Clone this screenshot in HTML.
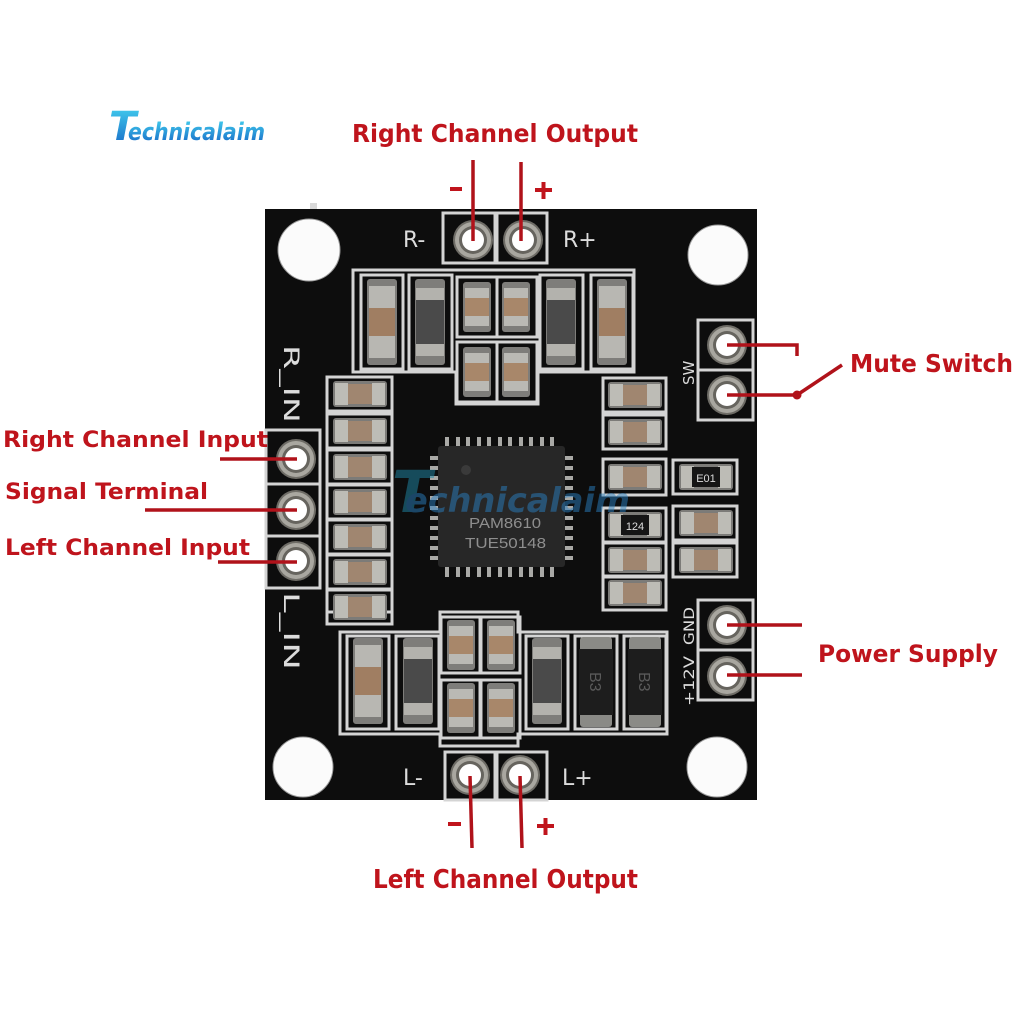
<!DOCTYPE html>
<html><head><meta charset="utf-8"><style>
html,body{margin:0;padding:0;background:#fff;}
svg{display:block;}
</style></head><body>
<svg width="1024" height="1024" viewBox="0 0 1024 1024" xmlns="http://www.w3.org/2000/svg">
<defs>
<linearGradient id="lg" x1="0" y1="0" x2="0" y2="1">
<stop offset="0" stop-color="#45d3f0"/><stop offset="1" stop-color="#1463c4"/>
</linearGradient>
<g id="capH">
<rect x="-27" y="-13" width="54" height="26" rx="3" fill="#7c7b78"/>
<rect x="-25" y="-11" width="13" height="22" fill="#bdbcb6"/>
<rect x="12" y="-11" width="13" height="22" fill="#bdbcb6"/>
<rect x="-12" y="-10" width="24" height="20" fill="#a08670"/>
</g>
<g id="resH">
<rect x="-27" y="-13" width="54" height="26" rx="3" fill="#7c7b78"/>
<rect x="-25" y="-11" width="13" height="22" fill="#bdbcb6"/>
<rect x="12" y="-11" width="13" height="22" fill="#bdbcb6"/>
<rect x="-14" y="-10" width="28" height="20" fill="#151515"/>
</g>
<g id="capVL">
<rect x="-15" y="-43" width="30" height="86" rx="3" fill="#7e7d7a"/>
<rect x="-13" y="-36" width="26" height="72" fill="#b8b7b2"/>
<rect x="-13" y="-14" width="26" height="28" fill="#a07e62"/>
</g>
<g id="indV">
<rect x="-15" y="-43" width="30" height="86" rx="3" fill="#7e7d7a"/>
<rect x="-14" y="-34" width="28" height="68" fill="#b3b2ad"/>
<rect x="-14" y="-22" width="28" height="44" fill="#4a4a4a"/>
</g>
<g id="capVs">
<rect x="-14" y="-25" width="28" height="50" rx="3" fill="#7e7d7a"/>
<rect x="-12" y="-19" width="24" height="38" fill="#bab9b4"/>
<rect x="-12" y="-9" width="24" height="18" fill="#a8876a"/>
</g>
<g id="diode">
<rect x="-16" y="-45" width="32" height="90" rx="3" fill="#8a8a86"/>
<rect x="-17" y="-33" width="34" height="66" fill="#1d1d1d"/>
</g>
<g id="pad">
<circle r="20" fill="#6e6c66"/>
<circle r="18" fill="#a9a7a0"/>
<circle r="14" fill="#66645e"/>
<circle r="11" fill="#ffffff"/>
</g>
</defs>

<rect width="1024" height="1024" fill="#fff"/>

<!-- logo -->
<text x="109" y="140" font-family="DejaVu Sans, sans-serif" font-weight="bold" font-style="italic" font-size="40" fill="url(#lg)">T</text>
<text x="128" y="140" font-family="DejaVu Sans, sans-serif" font-weight="bold" font-style="italic" font-size="24" fill="url(#lg)" textLength="137" lengthAdjust="spacingAndGlyphs">echnicalaim</text>

<!-- board -->
<rect x="265" y="209" width="492" height="591" fill="#0d0d0d"/>
<rect x="310" y="203" width="7" height="6" fill="#d9d9d9"/>

<!-- holes -->
<circle cx="309" cy="250" r="31" fill="#fbfbfb" stroke="#9a9a9a" stroke-width="1"/>
<circle cx="718" cy="255" r="30" fill="#fbfbfb" stroke="#9a9a9a" stroke-width="1"/>
<circle cx="303" cy="767" r="30" fill="#fbfbfb" stroke="#9a9a9a" stroke-width="1"/>
<circle cx="717" cy="767" r="30" fill="#fbfbfb" stroke="#9a9a9a" stroke-width="1"/>

<!-- silkscreen -->
<g fill="none" stroke="#d4d4d4" stroke-width="3">
<rect x="443" y="213" width="52" height="50"/>
<rect x="497" y="213" width="50" height="50"/>
<rect x="445" y="752" width="50" height="48"/>
<rect x="497" y="752" width="50" height="48"/>
<path d="M353 270 H634 V372 H538 V404 H456 V372 H353 Z"/>
<rect x="361" y="275" width="42" height="94"/>
<rect x="409" y="275" width="43" height="94"/>
<rect x="457" y="277" width="40" height="60"/>
<rect x="497" y="277" width="40" height="60"/>
<rect x="457" y="342" width="40" height="60"/>
<rect x="497" y="342" width="40" height="60"/>
<rect x="540" y="275" width="43" height="94"/>
<rect x="591" y="275" width="42" height="94"/>
<path d="M340 632 H440 V612 H518 V632 H667 V734 H518 V746 H440 V734 H340 Z"/>
<rect x="347" y="636" width="42" height="93"/>
<rect x="396" y="636" width="43" height="93"/>
<rect x="441" y="617" width="39" height="56"/>
<rect x="481" y="617" width="39" height="56"/>
<rect x="441" y="680" width="39" height="58"/>
<rect x="481" y="680" width="39" height="58"/>
<rect x="526" y="636" width="42" height="93"/>
<rect x="575" y="636" width="42" height="93"/>
<rect x="624" y="636" width="42" height="93"/>
<rect x="327" y="377" width="65" height="235"/>
<rect x="327" y="377" width="65" height="34"/>
<rect x="327" y="414" width="65" height="34"/>
<rect x="327" y="450" width="65" height="34"/>
<rect x="327" y="485" width="65" height="34"/>
<rect x="327" y="520" width="65" height="34"/>
<rect x="327" y="555" width="65" height="34"/>
<rect x="327" y="590" width="65" height="34"/>
<rect x="603" y="378" width="63" height="34"/>
<rect x="603" y="415" width="63" height="34"/>
<rect x="603" y="459" width="63" height="36"/>
<rect x="603" y="508" width="63" height="34"/>
<rect x="603" y="543" width="63" height="34"/>
<rect x="603" y="576" width="63" height="34"/>
<rect x="673" y="460" width="64" height="34"/>
<rect x="673" y="506" width="64" height="34"/>
<rect x="673" y="543" width="64" height="34"/>
<rect x="266" y="430" width="54" height="158"/>
<line x1="266" y1="484" x2="320" y2="484"/>
<line x1="266" y1="536" x2="320" y2="536"/>
<rect x="698" y="320" width="55" height="100"/>
<line x1="698" y1="370" x2="753" y2="370"/>
<rect x="698" y="600" width="55" height="100"/>
<line x1="698" y1="650" x2="753" y2="650"/>
</g>

<!-- silkscreen text -->
<g fill="#dcdcdc" font-family="DejaVu Sans, sans-serif" font-size="22">
<text x="403" y="247">R-</text>
<text x="563" y="247">R+</text>
<text x="403" y="785">L-</text>
<text x="562" y="785">L+</text>
<text transform="translate(284,345) rotate(90)" font-size="21" textLength="78" lengthAdjust="spacingAndGlyphs">R_IN</text>
<text transform="translate(284,592) rotate(90)" font-size="21" textLength="78" lengthAdjust="spacingAndGlyphs">L_IN</text>
<text transform="translate(694,385) rotate(-90)" font-size="15">SW</text>
<text transform="translate(694,645) rotate(-90)" font-size="14" textLength="38" lengthAdjust="spacingAndGlyphs">GND</text>
<text transform="translate(694,706) rotate(-90)" font-size="14" textLength="50" lengthAdjust="spacingAndGlyphs">+12V</text>
</g>

<!-- components top -->
<use href="#capVL" x="382" y="322"/>
<use href="#indV" x="430" y="322"/>
<use href="#capVs" x="477" y="307"/>
<use href="#capVs" x="516" y="307"/>
<use href="#capVs" x="477" y="372"/>
<use href="#capVs" x="516" y="372"/>
<use href="#indV" x="561" y="322"/>
<use href="#capVL" x="612" y="322"/>

<!-- components bottom -->
<use href="#capVL" x="368" y="681"/>
<use href="#indV" x="418" y="681"/>
<use href="#capVs" x="461" y="645"/>
<use href="#capVs" x="501" y="645"/>
<use href="#capVs" x="461" y="708"/>
<use href="#capVs" x="501" y="708"/>
<use href="#indV" x="547" y="681"/>
<use href="#diode" x="596" y="682"/>
<use href="#diode" x="645" y="682"/>
<text transform="translate(590,672) rotate(90)" font-family="Liberation Sans, sans-serif" font-size="16" fill="#5a5a5a">B3</text>
<text transform="translate(639,672) rotate(90)" font-family="Liberation Sans, sans-serif" font-size="16" fill="#5a5a5a">B3</text>

<!-- left column caps -->
<use href="#capH" x="360" y="394"/>
<use href="#capH" x="360" y="431"/>
<use href="#capH" x="360" y="467"/>
<use href="#capH" x="360" y="502"/>
<use href="#capH" x="360" y="537"/>
<use href="#capH" x="360" y="572"/>
<use href="#capH" x="360" y="607"/>

<!-- right column -->
<use href="#capH" x="635" y="395"/>
<use href="#capH" x="635" y="432"/>
<use href="#capH" x="635" y="477"/>
<use href="#resH" x="635" y="525"/>
<use href="#capH" x="635" y="560"/>
<use href="#capH" x="635" y="593"/>
<use href="#resH" x="706" y="477"/>
<use href="#capH" x="706" y="523"/>
<use href="#capH" x="706" y="560"/>
<text x="635" y="530" font-family="Liberation Sans, sans-serif" font-size="11" fill="#dcdcdc" text-anchor="middle">124</text>
<text x="706" y="482" font-family="Liberation Sans, sans-serif" font-size="11" fill="#dcdcdc" text-anchor="middle">E01</text>

<!-- chip -->
<g fill="#a9a9a6">
<rect x="445" y="437" width="4" height="11"/><rect x="456" y="437" width="4" height="11"/><rect x="466" y="437" width="4" height="11"/><rect x="477" y="437" width="4" height="11"/><rect x="487" y="437" width="4" height="11"/><rect x="498" y="437" width="4" height="11"/><rect x="508" y="437" width="4" height="11"/><rect x="519" y="437" width="4" height="11"/><rect x="529" y="437" width="4" height="11"/><rect x="540" y="437" width="4" height="11"/><rect x="550" y="437" width="4" height="11"/>
<rect x="445" y="566" width="4" height="11"/><rect x="456" y="566" width="4" height="11"/><rect x="466" y="566" width="4" height="11"/><rect x="477" y="566" width="4" height="11"/><rect x="487" y="566" width="4" height="11"/><rect x="498" y="566" width="4" height="11"/><rect x="508" y="566" width="4" height="11"/><rect x="519" y="566" width="4" height="11"/><rect x="529" y="566" width="4" height="11"/><rect x="540" y="566" width="4" height="11"/><rect x="550" y="566" width="4" height="11"/>
<rect x="430" y="456" width="10" height="4"/><rect x="430" y="466" width="10" height="4"/><rect x="430" y="476" width="10" height="4"/><rect x="430" y="486" width="10" height="4"/><rect x="430" y="496" width="10" height="4"/><rect x="430" y="506" width="10" height="4"/><rect x="430" y="516" width="10" height="4"/><rect x="430" y="526" width="10" height="4"/><rect x="430" y="536" width="10" height="4"/><rect x="430" y="546" width="10" height="4"/><rect x="430" y="556" width="10" height="4"/>
<rect x="563" y="456" width="10" height="4"/><rect x="563" y="466" width="10" height="4"/><rect x="563" y="476" width="10" height="4"/><rect x="563" y="486" width="10" height="4"/><rect x="563" y="496" width="10" height="4"/><rect x="563" y="506" width="10" height="4"/><rect x="563" y="516" width="10" height="4"/><rect x="563" y="526" width="10" height="4"/><rect x="563" y="536" width="10" height="4"/><rect x="563" y="546" width="10" height="4"/><rect x="563" y="556" width="10" height="4"/>
</g>
<rect x="438" y="446" width="127" height="121" rx="3" fill="#272727"/>
<circle cx="466" cy="470" r="5" fill="#3a3a3a"/>
<text x="469" y="528" font-family="Liberation Sans, sans-serif" font-size="15" fill="#8e8e8e" textLength="72" lengthAdjust="spacingAndGlyphs">PAM8610</text>
<text x="465" y="548" font-family="Liberation Sans, sans-serif" font-size="15" fill="#8e8e8e" textLength="81" lengthAdjust="spacingAndGlyphs">TUE50148</text>

<!-- watermark -->
<g opacity="0.5" font-family="DejaVu Sans, sans-serif" font-weight="bold" font-style="italic">
<text x="392" y="512" font-size="58" fill="#1f8aa8">T</text>
<text x="405" y="512" font-size="34" fill="#2a7fc0" textLength="225" lengthAdjust="spacingAndGlyphs">echnicalaim</text>
</g>

<!-- pads -->
<use href="#pad" x="473" y="240"/>
<use href="#pad" x="523" y="240"/>
<use href="#pad" x="470" y="775"/>
<use href="#pad" x="520" y="775"/>
<use href="#pad" x="296" y="459"/>
<use href="#pad" x="296" y="510"/>
<use href="#pad" x="296" y="561"/>
<use href="#pad" x="727" y="345"/>
<use href="#pad" x="727" y="395"/>
<use href="#pad" x="727" y="625"/>
<use href="#pad" x="727" y="676"/>

<!-- red annotations -->
<g stroke="#b0121a" stroke-width="3.5" fill="none">
<line x1="473" y1="160" x2="473" y2="241"/>
<line x1="521" y1="162" x2="521" y2="241"/>
<line x1="470" y1="776" x2="472" y2="848"/>
<line x1="520" y1="776" x2="522" y2="848"/>
<line x1="220" y1="459" x2="297" y2="459"/>
<line x1="145" y1="510" x2="297" y2="510"/>
<line x1="218" y1="562" x2="297" y2="562"/>
<polyline points="727,345 797,345 797,356"/>
<line x1="727" y1="395" x2="797" y2="395"/>
<line x1="797" y1="395" x2="842" y2="365"/>
<line x1="727" y1="625" x2="802" y2="625"/>
<line x1="727" y1="675" x2="802" y2="675"/>
</g>
<circle cx="797" cy="395" r="4.5" fill="#b0121a"/>
<g fill="#c0141c">
<rect x="450" y="187" width="12" height="4"/>
<rect x="535" y="188" width="17" height="4"/><rect x="541.5" y="182" width="4" height="17"/>
<rect x="448" y="822" width="13" height="4"/>
<rect x="537" y="824" width="17" height="4"/><rect x="543.5" y="818" width="4" height="17"/>
</g>
<g fill="#bf141c" font-family="DejaVu Sans, sans-serif" font-weight="bold">
<text x="352" y="142" font-size="25" textLength="286" lengthAdjust="spacingAndGlyphs">Right Channel Output</text>
<text x="373" y="888" font-size="26" textLength="265" lengthAdjust="spacingAndGlyphs">Left Channel Output</text>
<text x="3" y="447" font-size="22" textLength="265" lengthAdjust="spacingAndGlyphs">Right Channel Input</text>
<text x="5" y="499" font-size="22" textLength="203" lengthAdjust="spacingAndGlyphs">Signal Terminal</text>
<text x="5" y="555" font-size="22" textLength="245" lengthAdjust="spacingAndGlyphs">Left Channel Input</text>
<text x="850" y="372" font-size="25" textLength="163" lengthAdjust="spacingAndGlyphs">Mute Switch</text>
<text x="818" y="662" font-size="24" textLength="180" lengthAdjust="spacingAndGlyphs">Power Supply</text>
</g>
</svg>
</body></html>
